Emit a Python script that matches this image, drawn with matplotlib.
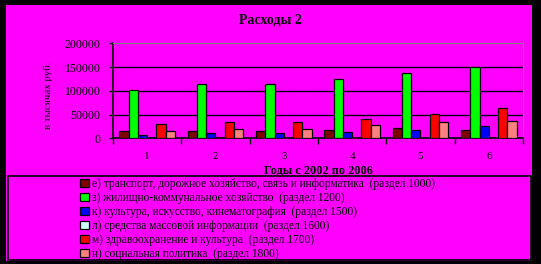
import matplotlib
matplotlib.use("Agg")
import matplotlib.pyplot as plt
import numpy as np
from matplotlib.patches import Rectangle

years = ["1", "2", "3", "4", "5", "6"]
transport = [15000, 15000, 15000, 17500, 21500, 17000]
housing = [101500, 114000, 114000, 124000, 137000, 149500]
culture = [8000, 10500, 10500, 12500, 16500, 25000]
media = [0, 0, 0, 0, 0, 1000]
health = [29500, 33500, 33500, 40000, 50500, 63000]
social = [15000, 19000, 19000, 27500, 33500, 36000]

labels = [
    "е) транспорт, дорожное хозяйство, связь и информатика  (раздел 1000)",
    "з) жилищно-коммунальное хозяйство  (раздел 1200)",
    "к) культура, искусство, кинематография  (раздел 1500)",
    "л) средства массовой информации  (раздел 1600)",
    "м) здравоохранение и культура  (раздел 1700)",
    "н) социальная политика  (раздел 1800)",
]
colors = ["#800000", "#00FF00", "#0000FF", "#CCFFFF", "#FF0000", "#FF8080"]
series = [transport, housing, culture, media, health, social]

title = "Расходы 2"
xlabel = "Годы с 2002 по 2006"
ylabel = "в тысячах руб."
yticks = [0, 50000, 100000, 150000, 200000]

plt.rcParams['font.family'] = ['Liberation Serif', 'DejaVu Serif']

W, H = 541, 264
fig = plt.figure(figsize=(W / 100, H / 100), dpi=100)
fig.patch.set_facecolor("black")

# magenta background area
fig.patches.append(Rectangle((6 / W, 1 - 261 / H), (532 - 6) / W, (261 - 5) / H,
                             transform=fig.transFigure, facecolor="#FF00FF",
                             edgecolor="none", zorder=0))
# legend box
fig.patches.append(Rectangle((7.5 / W, 1 - 260 / H), (531 - 7.5) / W, (260 - 176) / H,
                             transform=fig.transFigure, facecolor="#FF00FF",
                             edgecolor="black", linewidth=1.2, zorder=1))

ax = fig.add_axes([113 / W, 1 - 138.3 / H, (523 - 113) / W, 95 / H])
ax.set_zorder(3)
ax.set_facecolor("#FF00FF")
ax.patch.set_alpha(0)

n = len(years)
x = np.arange(n)
bw = 0.135
handles = []
for i, (vals, c, lab) in enumerate(zip(series, colors, labels)):
    off = (i - 2.5) * bw
    b = ax.bar(x + off, vals, bw, color=c, edgecolor="black", linewidth=0.9,
               label=lab, zorder=3)
    handles.append(b)

ax.set_xlim(-0.5, n - 0.5)
ax.set_ylim(0, 200000)
ax.set_yticks(yticks)
ax.set_yticklabels([str(v) for v in yticks], fontsize=8.5)
ax.set_xticks(x)
ax.set_xticklabels(years, fontsize=8)
ax.tick_params(axis="x", length=0, pad=10)
ax.set_xticks(np.arange(-0.5, n, 1.0), minor=True)
ax.tick_params(axis="x", which="minor", length=4, direction="out", width=1)
ax.tick_params(axis="y", length=3, direction="out", width=1, pad=6)

for yv in yticks[1:-1]:
    ax.axhline(yv, color="black", linewidth=1, zorder=1)

ax.spines["left"].set_color("black")
ax.spines["bottom"].set_color("black")
ax.spines["left"].set_linewidth(1.2)
ax.spines["bottom"].set_linewidth(1.2)
ax.spines["top"].set_color("#808080")
ax.spines["right"].set_color("#808080")

fig.text(270 / W, 1 - 20 / H, title, ha="center", va="center", fontsize=10,
         fontweight="bold", zorder=4)
fig.text(318 / W, 1 - 171 / H, xlabel, ha="center", va="center", fontsize=8.8,
         fontweight="bold", zorder=4)
fig.text(48 / W, 1 - 95 / H, ylabel, ha="center", va="center", fontsize=7.8,
         rotation=90, zorder=4)

leg = fig.legend(handles=handles, labels=labels, loc="upper left",
                 bbox_to_anchor=(80 / W, 1 - 178 / H), frameon=False,
                 fontsize=8.3, handlelength=0.75, handleheight=0.75,
                 handletextpad=0.25, labelspacing=0.17, borderpad=0,
                 borderaxespad=0)
leg.set_zorder(5)

fig.savefig("out.png", dpi=100, facecolor=fig.get_facecolor())
